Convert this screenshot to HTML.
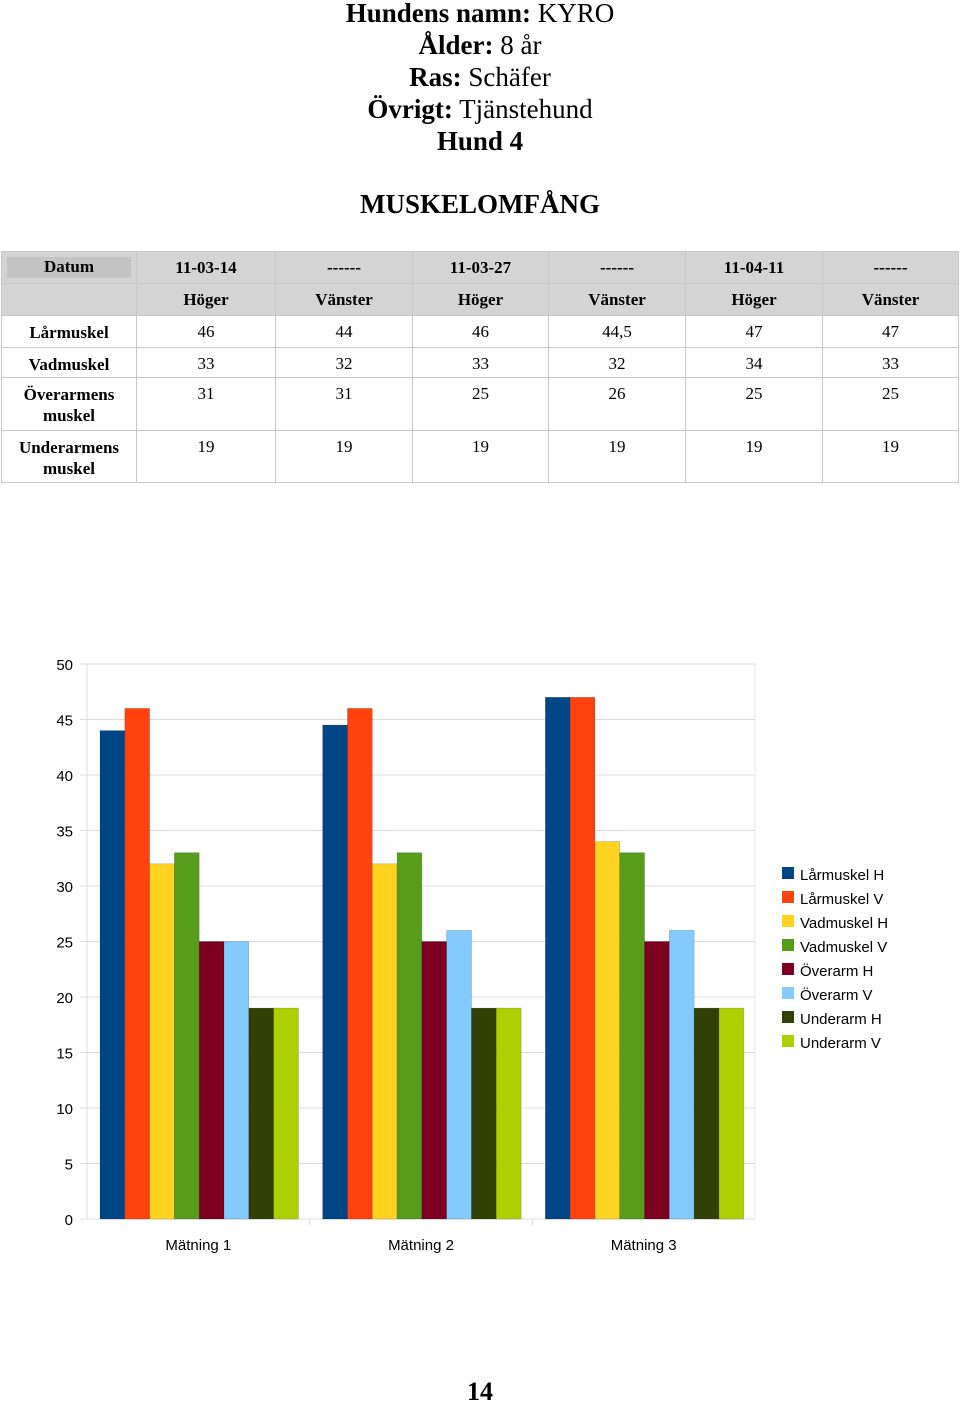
<!DOCTYPE html>
<html><head><meta charset="utf-8"><style>
body{margin:0;width:960px;height:1402px;background:#fff;position:relative;font-family:"Liberation Serif",serif;overflow:hidden}
.t{position:absolute;left:0;width:960px;text-align:center;font-size:27px;line-height:32px;color:#000}
table{position:absolute;left:1px;top:251px;border-collapse:collapse;font-size:17px}
td{border:1px solid #c8c8c8;text-align:center;vertical-align:top;padding:6px 0 0 0;box-sizing:border-box}
tr.h td{background:#d4d4d4;font-weight:bold}
td.l{font-weight:bold;line-height:21px}
</style></head><body>
<div class="t" style="top:-3px"><b>Hundens namn:</b> KYRO</div>
<div class="t" style="top:29px"><b>Ålder:</b> 8 år</div>
<div class="t" style="top:61px"><b>Ras:</b> Schäfer</div>
<div class="t" style="top:93px"><b>Övrigt:</b> Tjänstehund</div>
<div class="t" style="top:125px"><b>Hund 4</b></div>
<div class="t" style="top:188px;font-weight:bold">MUSKELOMFÅNG</div>
<table>
<colgroup><col style="width:135px"><col style="width:139px"><col style="width:137px"><col style="width:136px"><col style="width:137px"><col style="width:137px"><col style="width:136px"></colgroup>
<tr class="h" style="height:32px"><td style="padding:5px 5px 0"><div style="background:#c4c4c4;height:21px">Datum</div></td><td>11-03-14</td><td>------</td><td>11-03-27</td><td>------</td><td>11-04-11</td><td>------</td></tr>
<tr class="h" style="height:32px"><td></td><td>Höger</td><td>Vänster</td><td>Höger</td><td>Vänster</td><td>Höger</td><td>Vänster</td></tr>
<tr style="height:32px"><td class="l">Lårmuskel</td><td>46</td><td>44</td><td>46</td><td>44,5</td><td>47</td><td>47</td></tr>
<tr style="height:30px"><td class="l">Vadmuskel</td><td>33</td><td>32</td><td>33</td><td>32</td><td>34</td><td>33</td></tr>
<tr style="height:53px"><td class="l">Överarmens<br>muskel</td><td>31</td><td>31</td><td>25</td><td>26</td><td>25</td><td>25</td></tr>
<tr style="height:52px"><td class="l">Underarmens<br>muskel</td><td>19</td><td>19</td><td>19</td><td>19</td><td>19</td><td>19</td></tr>
</table>
<svg id="chart" width="960" height="1402" style="position:absolute;left:0;top:0;font-family:'Liberation Sans',sans-serif"></svg>
<div class="t" style="top:1376px;font-weight:bold;font-size:26px">14</div>
<script>
const categories=["Mätning 1","Mätning 2","Mätning 3"];
const seriesNames=["Lårmuskel H","Lårmuskel V","Vadmuskel H","Vadmuskel V","Överarm H","Överarm V","Underarm H","Underarm V"];
const colors=["#004586","#ff420e","#ffd320","#579d1c","#7e0021","#83caff","#314004","#aecf00"];
const values=[[44,44.5,47],[46,46,47],[32,32,34],[33,33,33],[25,25,25],[25,26,26],[19,19,19],[19,19,19]];
const yTicks=[0,5,10,15,20,25,30,35,40,45,50];
const svg=document.getElementById('chart');const NS="http://www.w3.org/2000/svg";
function mk(t,a,txt){const e=document.createElementNS(NS,t);for(const k in a)e.setAttribute(k,a[k]);if(txt!=null)e.textContent=txt;svg.appendChild(e);return e;}
const x0=87,x1=755,yb=1219,yt=664,ymax=50;
const y=v=>yb-(v/ymax)*(yb-yt);
const gw=(x1-x0)/categories.length,bw=24.8,pad=13;
yTicks.forEach(t=>{
 const g=mk('line',{x1:80,x2:x1,y1:y(t),y2:y(t),stroke:'#dcdcdc','stroke-width':1});
 
 const l=mk('text',{x:73,y:y(t)+6,'text-anchor':'end','font-size':15,fill:'#000'},t);
 
});
mk('line',{x1:x0,x2:x0,y1:yt,y2:yb,stroke:'#dcdcdc'});
mk('line',{x1:x1,x2:x1,y1:yt,y2:yb,stroke:'#e8e8e8'});
categories.forEach((c,i)=>{
 if(i>0)mk('line',{x1:x0+gw*i,x2:x0+gw*i,y1:yb,y2:yb+6,stroke:'#dcdcdc'});
 const l=mk('text',{x:x0+gw*i+gw/2,y:yb+31,'text-anchor':'middle','font-size':15},c);
 
 values.forEach((s,j)=>{
  const r=mk('rect',{x:x0+gw*i+pad+j*bw,y:y(s[i]),width:bw,height:yb-y(s[i]),fill:colors[j],stroke:'rgba(0,0,0,0.25)','stroke-width':0.6});
  
 });
});
seriesNames.forEach((n,j)=>{
 const yy=867+j*24;
 const r=mk('rect',{x:782,y:yy,width:12,height:12,fill:colors[j]});
 
 const t=mk('text',{x:800,y:yy+13,'font-size':15},n);
 
});
</script>
</body></html>
